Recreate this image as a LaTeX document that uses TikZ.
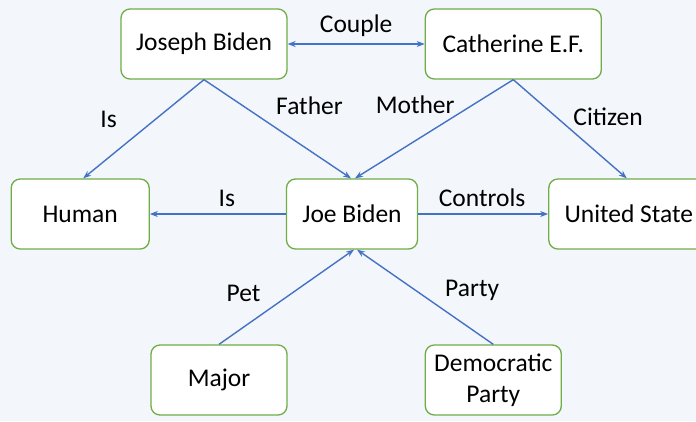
\documentclass[tikz,border=0pt]{standalone}
\usepackage{fontspec}
\setmainfont{Carlito}
\usepackage{xcolor}
\usepackage{tikz}
\usetikzlibrary{arrows.meta, positioning}
\definecolor{pageBg}{HTML}{F3F6FB}
\definecolor{boxEdge}{HTML}{70AD47}
\definecolor{relLine}{HTML}{4472C4}

\begin{document}
\begin{tikzpicture}[
    x=1pt, y=-1pt,
    font=\fontsize{25.5}{31}\selectfont,
    entity/.style={
      rectangle, rounded corners=9pt, draw=boxEdge, fill=white,
      line width=1.3pt, minimum height=70pt, inner sep=0pt,
      align=center
    },
    rel/.style={-{Stealth[length=8pt, width=6pt]}, line width=1.4pt, relLine},
    both/.style={{Stealth[length=8pt, width=6pt]}-{Stealth[length=8pt, width=6pt]}, line width=1.4pt, relLine},
    tag/.style={midway, text=black, inner sep=0pt},
  ]

  %% ── Page ──
  \fill[pageBg] (0,0) rectangle (696,421);
  \useasboundingbox (0,0) rectangle (696,421);
  \clip (0,0) rectangle (696,421);

  %% ── Top row ──
  \node[entity, minimum width=166pt] at (204,44)               (JB)  {Joseph Biden};
  \node[entity, minimum width=176pt, right=137pt of JB]        (CEF) {Catherine E.F.};

  %% ── Middle row ──
  \node[entity, minimum width=131pt] at (352,214)              (Joe) {Joe Biden};
  \node[entity, minimum width=138pt, left=136pt of Joe]        (Hum) {Human};
  \node[entity, minimum width=160pt, right=130pt of Joe]       (US)  {United State};

  %% ── Bottom row ──
  \node[entity, minimum width=136pt] at (219,380)              (Maj) {Major};
  \node[entity, minimum width=136pt, right=137pt of Maj]       (Dem) {Democratic\\Party};

  %% ── Relations ──
  \draw[both] (JB) -- node[tag, yshift=18pt] {Couple} (CEF);
  \draw[rel] (JB.south) -- node[tag, xshift=-35pt, yshift=10pt] {Is} ([xshift=3pt]Hum.north);
  \draw[rel] (JB.south) -- node[tag, xshift=32pt, yshift=23pt] {Father} ([xshift=-1pt]Joe.north);
  \draw[rel] (CEF.south) -- node[tag, xshift=-19pt, yshift=24pt] {Mother} ([xshift=3pt]Joe.north);
  \draw[rel] (CEF.south) -- node[tag, xshift=38pt, yshift=12pt] {Citizen} ([xshift=-2pt]US.north);
  \draw[rel] (Joe) -- node[tag, xshift=9pt, yshift=16pt] {Is} (Hum);
  \draw[rel] (Joe) -- node[tag, xshift=-1pt, yshift=16pt] {Controls} (US);
  \draw[rel] (Maj.north) -- node[tag, xshift=-43pt, yshift=4pt] {Pet} ([xshift=2pt]Joe.south);
  \draw[rel] (Dem.north) -- node[tag, xshift=47pt, yshift=7pt] {Party} ([xshift=5pt]Joe.south);

\end{tikzpicture}
\end{document}
